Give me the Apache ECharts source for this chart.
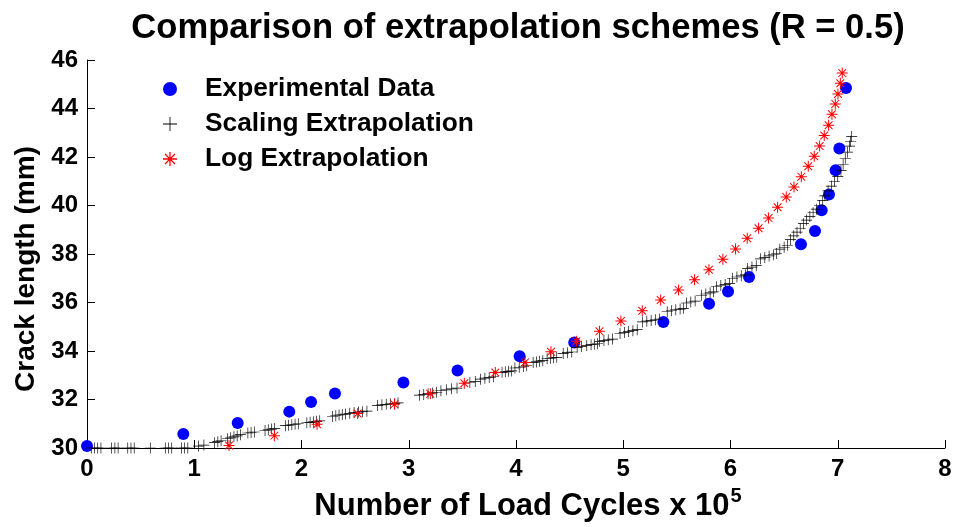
<!DOCTYPE html>
<html>
<head>
<meta charset="utf-8">
<script src="https://cdn.jsdelivr.net/npm/echarts@6/dist/echarts.min.js"></script>
<style>html,body{margin:0;padding:0;background:#fff}#c{width:959px;height:527px}</style>
</head>
<body>
<div id="c"></div>
<script>
var titleText = 'Comparison of extrapolation schemes (R = 0.5)';
var seriesNames = ['Experimental Data', 'Scaling Extrapolation', 'Log Extrapolation'];
var xTicks = [0, 1, 2, 3, 4, 5, 6, 7, 8];
var yTicks = [30, 32, 34, 36, 38, 40, 42, 44, 46];

var expX = [0.0, 0.898, 1.405, 1.886, 2.089, 2.312, 2.95, 3.455, 4.034, 4.543, 5.374, 5.80, 5.977, 6.173, 6.657, 6.788, 6.850, 6.918, 6.980, 7.015, 7.077];
var expY = [30.08, 30.58, 31.03, 31.5, 31.9, 32.25, 32.7, 33.2, 33.78, 34.35, 35.2, 35.95, 36.45, 37.05, 38.4, 38.95, 39.8, 40.45, 41.45, 42.35, 44.85];

var logX = [1.324, 1.747, 2.145, 2.524, 2.866, 3.201, 3.518, 3.807, 4.084, 4.326, 4.563, 4.778, 4.978, 5.177, 5.349, 5.516, 5.665, 5.799, 5.929, 6.047, 6.156, 6.262, 6.355, 6.439, 6.520, 6.592, 6.660, 6.725, 6.781, 6.831, 6.874, 6.915, 6.946, 6.977, 7.002, 7.024, 7.042];
var logY = [30.10, 30.51, 30.98, 31.42, 31.80, 32.24, 32.67, 33.11, 33.53, 33.97, 34.40, 34.81, 35.24, 35.66, 36.10, 36.52, 36.94, 37.35, 37.78, 38.21, 38.65, 39.06, 39.48, 39.93, 40.35, 40.76, 41.19, 41.62, 42.03, 42.45, 42.89, 43.31, 43.76, 44.19, 44.60, 45.04, 45.46];

var scaleX = [0.04,0.07,0.10,0.13, 0.23,0.26,0.29, 0.38,0.41,0.44, 0.59, 0.73,0.76,0.79, 0.88,0.91,0.94,
  1.04,1.09, 1.19,1.22,1.25, 1.31,1.34,1.37,1.40,1.43, 1.50,1.53,1.56, 1.66,1.69,1.72,1.75,
  1.85,1.88,1.91,1.94,1.97, 2.05,2.08,2.11,2.14,2.17, 2.29,2.32,2.35,2.38,2.41, 2.45,2.49,2.53,2.57,2.61,
  2.71,2.75,2.79,2.83,2.87,2.90, 3.10,3.14,3.18,3.22,3.26, 3.30,3.35,3.40,3.45, 3.57,3.62,
  3.67,3.71,3.75,3.79, 3.87,3.90,3.93,3.96, 3.99,4.03,4.07,4.10, 4.16,4.19,4.22,4.25, 4.29,4.32,4.35,4.38,
  4.44,4.48,4.52, 4.57,4.61, 4.66,4.70,4.73,4.76, 4.78,4.82,4.86,4.90, 4.97,5.01,5.05,5.09,5.13,
  5.18,5.22,5.26,5.30,5.34, 5.41,5.45,5.49,5.53,5.56, 5.59,5.63,5.67, 5.73,5.77,5.81,5.84,
  5.87,5.91,5.95,5.99, 6.02,6.06,6.10,6.14, 6.16,6.20,6.24, 6.28,6.32,6.36,6.40,6.43, 6.46,6.50,6.53,
  6.56,6.59,6.62,6.65, 6.68,6.71,6.74,6.77, 6.80,6.83,6.86, 6.88,6.91,6.94, 6.97,7.00,7.03,
  7.05,7.07,7.09, 7.11,7.12,7.13];
var scaleY = [30.0,30.0,30.0,30.0, 30.0,30.0,30.0, 30.0,30.0,30.0, 30.0, 30.0,30.0,30.0, 30.0,30.0,30.0,
  30.08,30.12, 30.22,30.26,30.3, 30.38,30.42,30.46,30.5,30.55, 30.62,30.64,30.66, 30.72,30.75,30.78,30.8,
  30.92,30.94,30.96,30.98,31.0, 31.04,31.06,31.08,31.1,31.12, 31.3,31.33,31.36,31.38,31.4, 31.43,31.46,31.48,31.5,31.52,
  31.75,31.78,31.8,31.82,31.84,31.86, 32.18,32.21,32.24,32.27,32.3, 32.36,32.4,32.44,32.47, 32.7,32.74,
  32.84,32.88,32.91,32.94, 33.12,33.14,33.16,33.18, 33.3,33.33,33.36,33.39, 33.53,33.55,33.58,33.6, 33.68,33.7,33.72,33.74,
  33.9,33.93,33.96, 34.15,34.19, 34.23,34.26,34.28,34.3, 34.4,34.43,34.46,34.49, 34.72,34.76,34.8,34.84,34.88,
  35.2,35.23,35.26,35.29,35.32, 35.62,35.66,35.7,35.73,35.76, 35.98,36.02,36.06, 36.3,36.35,36.4,36.44,
  36.65,36.7,36.74,36.78, 37.0,37.05,37.1,37.14, 37.4,37.46,37.52, 37.8,37.86,37.92,37.97,38.02, 38.2,38.28,38.36,
  38.6,38.75,38.9,39.05, 39.25,39.4,39.55,39.7, 39.85,40.0,40.2, 40.4,40.6,40.8, 41.0,41.2,41.45,
  41.7,41.95,42.2, 42.45,42.65,42.85];

function zip(a, b) { return a.map(function (v, i) { return [v, b[i]]; }); }

var plusPath = 'path://M-0.6,-10L0.6,-10L0.6,-0.6L10,-0.6L10,0.6L0.6,0.6L0.6,10L-0.6,10L-0.6,0.6L-10,0.6L-10,-0.6L-0.6,-0.6Z';
var starPath = 'path://M-0.9,-10L0.9,-10L0.9,10L-0.9,10Z M-10,-0.9L10,-0.9L10,0.9L-10,0.9Z ' +
  'M-7.707,-6.435L-6.435,-7.707L7.707,6.435L6.435,7.707Z M-6.435,7.707L-7.707,6.435L6.435,-7.707L7.707,-6.435Z';

var FONT = '"Liberation Sans", Arial, sans-serif';
var chart = echarts.init(document.getElementById('c'), null, { renderer: 'canvas' });
chart.setOption({
  animation: false,
  backgroundColor: '#ffffff',
  title: {
    text: titleText, left: 518, top: 11, textAlign: 'center', padding: 0,
    textStyle: { fontFamily: FONT, fontWeight: 'bold', fontSize: 34.6, color: '#000' }
  },
  legend: {
    orient: 'vertical', left: 163, top: 76, itemGap: 9, itemWidth: 14, itemHeight: 14, padding: 0,
    textStyle: { fontFamily: FONT, fontWeight: 'bold', fontSize: 26.3, lineHeight: 26, color: '#000', padding: [0, 0, 0, 23] },
    data: [
      { name: seriesNames[0], icon: 'circle' },
      { name: seriesNames[1], icon: plusPath },
      { name: seriesNames[2], icon: starPath }
    ]
  },
  grid: { left: 87, right: 14, top: 60, bottom: 79, containLabel: false },
  xAxis: {
    type: 'value', min: 0, max: 8, interval: 1,
    axisLine: { show: true, onZero: false, lineStyle: { color: '#000', width: 1 } },
    axisTick: { show: true, inside: true, length: 8, lineStyle: { color: '#000' } },
    splitLine: { show: false },
    axisLabel: { fontFamily: FONT, fontWeight: 'bold', fontSize: 24, color: '#000', margin: 9,
      formatter: function (v) { return xTicks.indexOf(v) >= 0 ? String(v) : ''; } },
    name: '{a|Number of Load Cycles x 10}{s|5}',
    nameLocation: 'middle', nameGap: 38,
    nameTextStyle: { padding: [0, 0, 0, 24], rich: {
      a: { fontFamily: FONT, fontWeight: 'bold', fontSize: 31, color: '#000' },
      s: { fontFamily: FONT, fontWeight: 'bold', fontSize: 20, color: '#000', verticalAlign: 'top', padding: [0, 0, 20, 1] }
    } }
  },
  yAxis: {
    type: 'value', min: 30, max: 46, interval: 2,
    axisLine: { show: true, onZero: false, lineStyle: { color: '#000', width: 1 } },
    axisTick: { show: true, inside: true, length: 8, lineStyle: { color: '#000' } },
    splitLine: { show: false },
    axisLabel: { fontFamily: FONT, fontWeight: 'bold', fontSize: 24, color: '#000', margin: 9,
      formatter: function (v) { return yTicks.indexOf(v) >= 0 ? String(v) : ''; } },
    name: 'Crack length (mm)', nameLocation: 'middle', nameGap: 44,
    nameTextStyle: { fontFamily: FONT, fontWeight: 'bold', fontSize: 28, color: '#000', padding: [0, 30, 0, 0] }
  },
  series: [
    { name: seriesNames[1], type: 'scatter', data: zip(scaleX, scaleY), symbol: plusPath, symbolSize: 11,
      itemStyle: { color: '#000', opacity: 1 }, clip: false, z: 2 },
    { name: seriesNames[2], type: 'scatter', data: zip(logX, logY), symbol: starPath, symbolSize: 11,
      itemStyle: { color: '#ff0000', opacity: 1 }, clip: false, z: 3 },
    { name: seriesNames[0], type: 'scatter', data: zip(expX, expY), symbol: 'circle', symbolSize: 12,
      itemStyle: { color: '#0000ff', opacity: 1 }, clip: false, z: 1 }
  ]
});
</script>
</body>
</html>
